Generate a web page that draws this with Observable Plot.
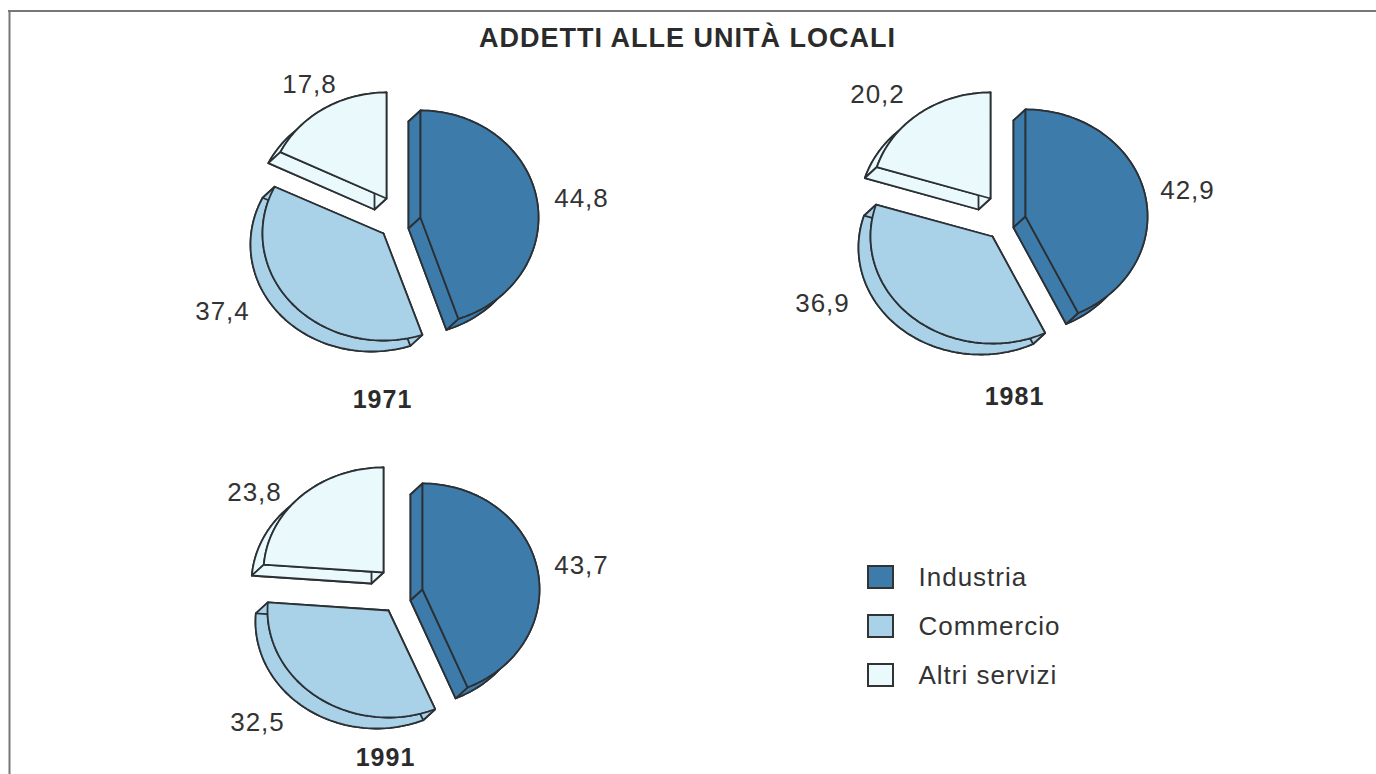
<!DOCTYPE html>
<html><head><meta charset="utf-8">
<script src="https://cdn.jsdelivr.net/npm/d3@7"></script>
<script src="https://cdn.jsdelivr.net/npm/@observablehq/plot@0.6"></script>
<style>html,body{margin:0;padding:0;background:#fff}</style>
</head><body><div id="chart"></div>
<script>
const years = [1971, 1981, 1991];
const sectors = ["Industria", "Commercio", "Altri servizi"];
const industria = [44.8, 42.9, 43.7];
const commercio = [37.4, 36.9, 32.5];
const altri = [17.8, 20.2, 23.8];
const colors = ["#3d7bab", "#a9d1e8", "#e9f9fc"];
const titleText = "ADDETTI ALLE UNITÀ LOCALI";

// layout: apex of each exploded wedge, ellipse radii, label anchors
const layout = [
  {apex: [[420,217],[383,233],[386,198]], rx: [118,121,118], ry: [107,107,106],
   labels: [[581,198],[222,311],[309,84]], year: [382,399]},
  {apex: [[1025,216],[992,236],[990,198]], rx: [122,122,119], ry: [107,107,106],
   labels: [[1187,190],[822,303],[877,94]], year: [1014,396]},
  {apex: [[422,589],[388,610],[383,572]], rx: [117,121,120], ry: [106,107,105],
   labels: [[581,565],[257,722],[254,492]], year: [385,757]}
];
const depth = [-12, 11];
const series = [industria, commercio, altri];

const faces = {bottom: [], sweep: [], startQuad: [], endQuad: [], top: []};
const labelRows = [];
const yearRows = [];
years.forEach((year, p) => {
  const L = layout[p];
  let acc = 0;
  sectors.forEach((sector, s) => {
    const v = series[s][p];
    const a0 = acc / 100 * 2 * Math.PI, a1 = (acc + v) / 100 * 2 * Math.PI;
    acc += v;
    const [ax, ay] = L.apex[s];
    const n = Math.ceil(v * 2);
    const arc = d3.range(n + 1).map(i => {
      const t = a0 + (a1 - a0) * i / n;
      return [ax + L.rx[s] * Math.sin(t), ay - L.ry[s] * Math.cos(t)];
    });
    const off = ([x, y]) => [x + depth[0], y + depth[1]];
    const apex = [ax, ay];
    const push = (face, pts) => {
      pts.forEach(([x, y]) => faces[face].push({x, y, sector, key: year + sector + face}));
    };
    const first = arc[0], last = arc[arc.length - 1];
    push("bottom", [off(apex), ...arc.map(off), off(apex)]);
    push("sweep", [...arc, ...arc.map(off).reverse(), arc[0]]);
    push("startQuad", [apex, first, off(first), off(apex), apex]);
    push("endQuad", [apex, last, off(last), off(apex), apex]);
    push("top", [apex, ...arc, apex]);
    const [lx, ly] = L.labels[s];
    labelRows.push({x: lx, y: ly, text: v.toFixed(1).replace(".", ",")});
  });
  yearRows.push({x: L.year[0], y: L.year[1], text: String(year)});
});

const legendX = [868, 893], legendTextX = 918;
const legendY = [[566,588],[615,637],[664,686]];
const legendRows = sectors.map((sector, i) => ({
  sector, x1: legendX[0], x2: legendX[1], y1: legendY[i][0], y2: legendY[i][1],
  ty: (legendY[i][0] + legendY[i][1]) / 2
}));

const ink = "#2b3034";
const faceMark = rows => Plot.line(rows, {
  x: "x", y: "y", z: "key", fill: "sector", stroke: ink, strokeWidth: 1.8
});

const plot = Plot.plot({
  width: 1376, height: 774,
  marginTop: 0, marginRight: 0, marginBottom: 0, marginLeft: 0,
  x: {domain: [0, 1376], range: [0, 1376], axis: null},
  y: {domain: [0, 774], range: [0, 774], axis: null},
  color: {type: "ordinal", domain: sectors, range: colors},
  style: {fontFamily: "'Liberation Sans', Arial, sans-serif", background: "#fff", letterSpacing: "1px"},
  marks: [
    Plot.ruleY([10.5], {x1: 8, x2: 1376, stroke: "#777", strokeWidth: 2}),
    Plot.ruleX([9], {y1: 10, y2: 774, stroke: "#777", strokeWidth: 2}),
    faceMark(faces.bottom),
    faceMark(faces.sweep),
    faceMark(faces.startQuad),
    faceMark(faces.endQuad),
    faceMark(faces.top),
    Plot.text([titleText], {x: () => 687, y: () => 38, text: d => d, fontSize: 27, fontWeight: "bold", fill: "#2b2b2b"}),
    Plot.text(labelRows, {x: "x", y: "y", text: "text", fontSize: 26, fill: "#333"}),
    Plot.text(yearRows, {x: "x", y: "y", text: "text", fontSize: 25, fontWeight: "bold", fill: "#2b2b2b"}),
    Plot.rect(legendRows, {x1: "x1", x2: "x2", y1: "y1", y2: "y2", fill: "sector", stroke: "#333", strokeWidth: 2}),
    Plot.text(legendRows, {x: () => legendTextX, y: "ty", text: "sector", textAnchor: "start", fontSize: 26, fill: "#333"})
  ]
});
document.getElementById("chart").append(plot);
</script></body></html>
